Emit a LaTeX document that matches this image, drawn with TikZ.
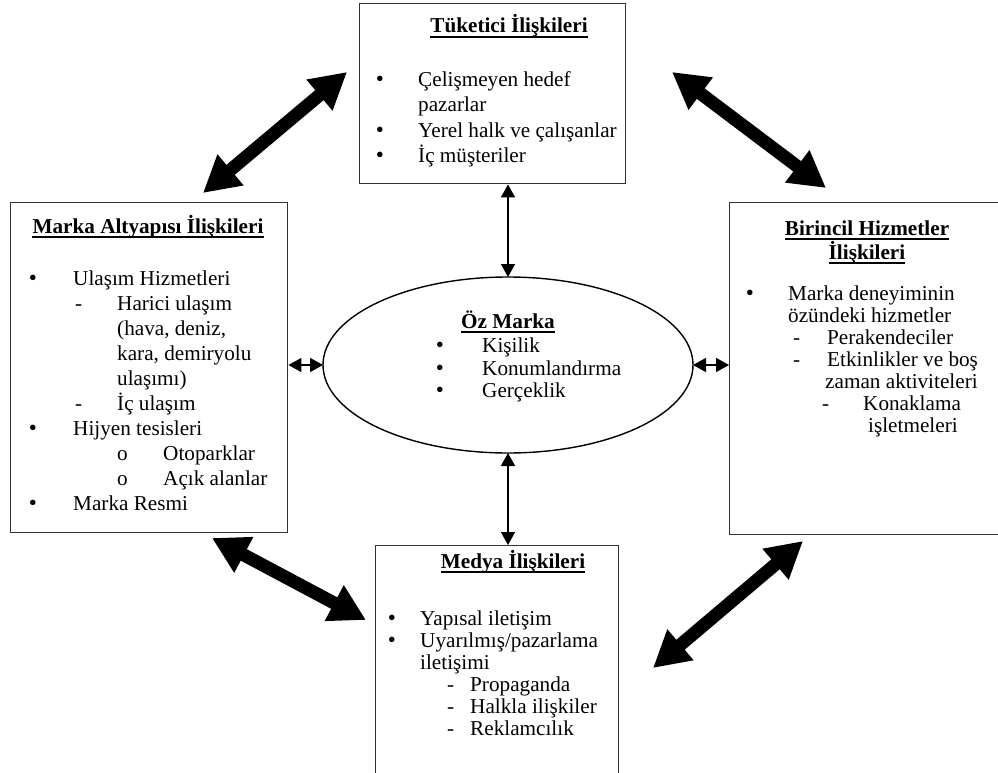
\documentclass[tikz,border=0pt]{standalone}
\usepackage{fontspec}
\setmainfont{Liberation Serif}
\usetikzlibrary{arrows.meta}
\begin{document}
\begin{tikzpicture}[x=1pt,y=-1pt,
  frame/.style={draw=black!80,line width=1.4,inner sep=0,anchor=north west},
  txt/.style={anchor=base west,inner sep=0,font=\fontsize{21.2}{25}\selectfont},
  blt/.style={anchor=base,inner sep=0,font=\fontsize{23}{25}\selectfont},
  head/.style={anchor=base,inner sep=0,font=\fontsize{21.2}{25}\selectfont\bfseries},
  uline/.style={line width=1.7},
  bigarrow/.style={line width=13,{Triangle[length=36,width=38]}-{Triangle[length=36,width=38]}},
  smallarrow/.style={line width=1.5,{Triangle[length=13,width=14]}-{Triangle[length=13,width=14]}}]
\clip (0,0) rectangle (998,773);
\fill[white] (0,0) rectangle (998,773);

% frames
\node[frame,minimum width=266,minimum height=180] (cons) at (359,3) {};
\node[frame,minimum width=277,minimum height=330] (infra) at (10,202) {};
\node[frame,minimum width=270,minimum height=332] (prim) at (729,202) {};
\node[frame,minimum width=243,minimum height=260] (media) at (375,545) {};
\draw[line width=1.4] (508,365) ellipse [x radius=185,y radius=88];
\coordinate (ellN) at (508,277);
\coordinate (ellS) at (508,453);
\coordinate (ellW) at (323,365);
\coordinate (ellE) at (693,365);

% consumer relations
\node[head] (consH) at (509,33) {Tüketici İlişkileri};
\draw[uline] ([yshift=-4]consH.base west) -- ([yshift=-4]consH.base east);
\node[blt] (c1b) at (380,87) {•};
\node[txt] (c1) at (418,87) {Çelişmeyen hedef};
\node[txt] (c1x) at (418,112) {pazarlar};
\node[blt] (c2b) at (380,137) {•};
\node[txt] (c2) at (418,137) {Yerel halk ve çalışanlar};
\node[blt] (c3b) at (380,162) {•};
\node[txt] (c3) at (418,162) {İç müşteriler};

% brand infrastructure relations
\node[head] (infH) at (148,233) {Marka Altyapısı İlişkileri};
\draw[uline] ([yshift=-4]infH.base west) -- ([yshift=-4]infH.base east);
\node[blt] (i1b) at (33,285) {•};
\node[txt] (i1) at (73,285) {Ulaşım Hizmetleri};
\node[txt] (i2d) at (75,310) {-};
\node[txt] (i2) at (117,310) {Harici ulaşım};
\node[txt] (i3) at (117,335) {(hava, deniz,};
\node[txt] (i4) at (117,360) {kara, demiryolu};
\node[txt] (i5) at (117,385) {ulaşımı)};
\node[txt] (i6d) at (75,410) {-};
\node[txt] (i6) at (117,410) {İç ulaşım};
\node[blt] (i7b) at (33,435) {•};
\node[txt] (i7) at (73,435) {Hijyen tesisleri};
\node[txt] (i8o) at (117,460) {o};
\node[txt] (i8) at (163,460) {Otoparklar};
\node[txt] (i9o) at (117,485) {o};
\node[txt] (i9) at (163,485) {Açık alanlar};
\node[blt] (i10b) at (33,510) {•};
\node[txt] (i10) at (73,510) {Marka Resmi};

% primary services relations
\node[head] (priH1) at (867,235) {Birincil Hizmetler};
\draw[uline] ([yshift=-4]priH1.base west) -- ([yshift=-4]priH1.base east);
\node[head] (priH2) at (867,259) {İlişkileri};
\draw[uline] ([yshift=-4]priH2.base west) -- ([yshift=-4]priH2.base east);
\node[blt] (p1b) at (750,300) {•};
\node[txt] (p1) at (788,300) {Marka deneyiminin};
\node[txt] (p2) at (788,322) {özündeki hizmetler};
\node[txt] (p3d) at (793,344) {-};
\node[txt] (p3) at (827,344) {Perakendeciler};
\node[txt] (p4d) at (793,366) {-};
\node[txt] (p4) at (827,366) {Etkinlikler ve boş};
\node[txt] (p5) at (825,388) {zaman aktiviteleri};
\node[txt] (p6d) at (822,410) {-};
\node[txt] (p6) at (863,410) {Konaklama};
\node[txt] (p7) at (868,432) {işletmeleri};

% media relations
\node[head] (medH) at (513,568) {Medya İlişkileri};
\draw[uline] ([yshift=-4]medH.base west) -- ([yshift=-4]medH.base east);
\node[blt] (m1b) at (392,625) {•};
\node[txt] (m1) at (420,625) {Yapısal iletişim};
\node[blt] (m2b) at (392,647) {•};
\node[txt] (m2) at (420,647) {Uyarılmış/pazarlama};
\node[txt] (m3) at (420,669) {iletişimi};
\node[txt] (m4d) at (447,691) {-};
\node[txt] (m4) at (470,691) {Propaganda};
\node[txt] (m5d) at (447,713) {-};
\node[txt] (m5) at (470,713) {Halkla ilişkiler};
\node[txt] (m6d) at (447,735) {-};
\node[txt] (m6) at (470,735) {Reklamcılık};

% core brand
\node[head] (coreH) at (508,328) {Öz Marka};
\draw[uline] ([yshift=-4]coreH.base west) -- ([yshift=-4]coreH.base east);
\node[blt] (e1b) at (440,352) {•};
\node[txt] (e1) at (482,352) {Kişilik};
\node[blt] (e2b) at (440,375) {•};
\node[txt] (e2) at (482,375) {Konumlandırma};
\node[blt] (e3b) at (440,397) {•};
\node[txt] (e3) at (482,397) {Gerçeklik};

% thin links to the core
\draw[smallarrow] (cons.south -| ellN) -- (ellN);
\draw[smallarrow] (ellS) -- (media.north -| ellS);
\draw[smallarrow] (infra.east |- ellW) -- (ellW);
\draw[smallarrow] (ellE) -- (prim.west |- ellE);

% heavy links between the outer relations
\coordinate (a1s) at (203,193); \coordinate (a1e) at (347,72);
\coordinate (a2s) at (672,72);  \coordinate (a2e) at (826,188);
\coordinate (a3s) at (212,538); \coordinate (a3e) at (366,620);
\coordinate (a4s) at (653,668); \coordinate (a4e) at (803,541);
\draw[bigarrow] (a1s) -- (a1e);
\draw[bigarrow] (a2s) -- (a2e);
\draw[bigarrow] (a3s) -- (a3e);
\draw[bigarrow] (a4s) -- (a4e);
\end{tikzpicture}
\end{document}
